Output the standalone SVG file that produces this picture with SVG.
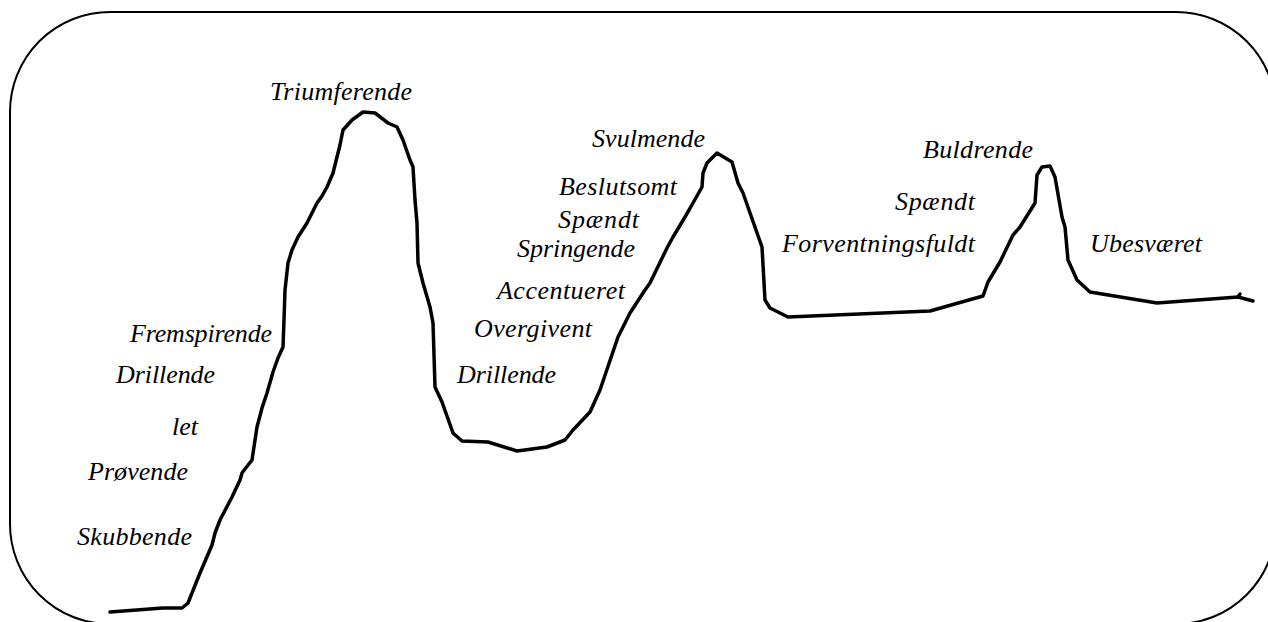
<svg xmlns="http://www.w3.org/2000/svg" width="1268" height="622" viewBox="0 0 1268 622">
<style>
.lbl{font-family:"Liberation Serif","DejaVu Serif",serif;font-style:italic;font-size:26px;fill:#000}
.frame{fill:#fff;stroke:#000;stroke-width:2}
.curve{fill:none;stroke:#000;stroke-width:3.5;stroke-linejoin:round;stroke-linecap:round}
</style>
<rect width="1268" height="622" fill="#fff"/>
<rect id="frame" class="frame" x="10" y="12" width="1266" height="612" rx="100" ry="100"/>
<g id="connectors">
<polyline class="curve" points="110,612 163,608 182,608 188,603 200,573 212,545 215,533 220,520 232,497 240,480 242,473 245,469 252,460 257,427 262,408 267,393 273,372 278,358 283,347 284,320 285,290 288,263 292,250 298,237 307,223 317,203 322,196 327,187 333,173 337,157 340,145 343,130 352,120 363,112 375,113 388,123 397,127 403,140 410,160 413,167 415,200 417,223 418,263 423,283 430,307 433,323 435,387 442,402 453,433 462,441 488,442 517,451 547,447 565,440 573,430 590,412 600,390 618,337 630,313 645,290 650,283 667,248 673,237 685,217 693,203 702,187 703,173 707,163 717,153 732,162 738,183 743,193 762,247 765,300 770,308 788,317 930,311 983,296 988,282 1000,262 1013,235 1020,227 1035,203 1037,175 1042,167 1050,166 1055,177 1062,217 1065,227 1068,260 1077,280 1090,292 1157,303 1238,297 1253,301"/>
<polyline class="curve" points="1238,297 1240,294"/>
</g>
<g id="n-triumferende"><text class="lbl" x="270" y="100" textLength="142">Triumferende</text></g>
<g id="n-fremspirende"><text class="lbl" x="130" y="342" textLength="142">Fremspirende</text></g>
<g id="n-drillende1"><text class="lbl" x="116" y="383" textLength="99">Drillende</text></g>
<g id="n-let"><text class="lbl" x="172" y="435" textLength="26">let</text></g>
<g id="n-provende"><text class="lbl" x="88" y="480" textLength="100">Prøvende</text></g>
<g id="n-skubbende"><text class="lbl" x="77" y="545" textLength="115">Skubbende</text></g>
<g id="n-svulmende"><text class="lbl" x="592" y="147" textLength="113">Svulmende</text></g>
<g id="n-beslutsomt"><text class="lbl" x="559" y="195" textLength="118">Beslutsomt</text></g>
<g id="n-spaendt1"><text class="lbl" x="558" y="228" textLength="81">Spændt</text></g>
<g id="n-springende"><text class="lbl" x="517" y="257" textLength="118">Springende</text></g>
<g id="n-accentueret"><text class="lbl" x="497" y="299" textLength="128">Accentueret</text></g>
<g id="n-overgivent"><text class="lbl" x="474" y="337" textLength="118">Overgivent</text></g>
<g id="n-drillende2"><text class="lbl" x="457" y="383" textLength="99">Drillende</text></g>
<g id="n-buldrende"><text class="lbl" x="923" y="158" textLength="110">Buldrende</text></g>
<g id="n-spaendt2"><text class="lbl" x="895" y="210" textLength="80">Spændt</text></g>
<g id="n-forventningsfuldt"><text class="lbl" x="782" y="252" textLength="193">Forventningsfuldt</text></g>
<g id="n-ubesvaeret"><text class="lbl" x="1090" y="252" textLength="112">Ubesværet</text></g>
</svg>
